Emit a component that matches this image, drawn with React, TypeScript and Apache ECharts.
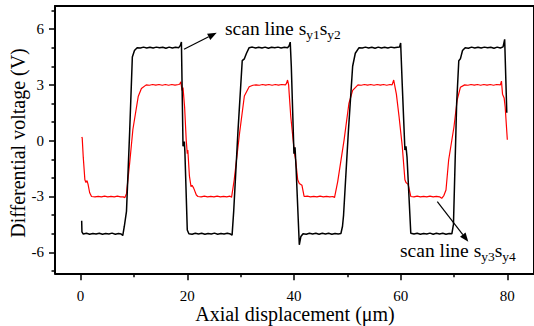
import React, { useEffect, useRef } from "react";
import * as echarts from "echarts";

const FONT = '"Liberation Serif", "Times New Roman", serif';

// x ticks / y ticks
const xMajor = [0, 20, 40, 60, 80];
const xMinor = [10, 30, 50, 70];
const yMajor = [-6, -3, 0, 3, 6];
const yMinor = [-7, -5, -4, -2, -1, 1, 2, 4, 5, 7];

// scan line sy1 sy2 (black)
const blackX = [
  0.2, 0.25, 0.5, 1.1, 1.7, 2.3, 2.9, 3.5, 4.1, 4.7, 5.3, 5.9, 6.5, 7.1, 7.6, 7.9, 8.2, 8.6, 9.2, 9.7,
  10.1, 10.6, 11.2, 11.8, 12.4, 13.0, 13.6, 14.2, 14.8, 15.4, 16.0, 16.6, 17.2, 17.8, 18.4, 18.7, 18.9,
  19.2, 19.45, 19.55, 20.0, 20.3, 20.9, 21.5, 22.1, 22.7, 23.3, 23.9, 24.5, 25.1, 25.7, 26.3, 26.9, 27.5,
  28.1, 28.4, 28.7, 29.5, 30.3, 30.7, 31.1, 31.6, 32.2, 32.8, 33.4, 34.0, 34.6, 35.2, 35.8, 36.4, 37.0,
  37.6, 38.2, 38.8, 39.1, 39.3, 39.5, 40.0, 40.2, 40.4, 41.0, 41.3, 41.7, 42.3, 42.9, 43.5, 44.1, 44.7,
  45.3, 45.9, 46.5, 47.1, 47.7, 48.3, 48.8, 49.1, 49.3, 50.2, 51.0, 51.5, 52.2, 52.8, 53.4, 54.0, 54.6,
  55.2, 55.8, 56.4, 57.0, 57.6, 58.2, 58.8, 59.4, 59.8, 60.0, 60.3, 60.8, 61.0, 61.2, 61.9, 62.5, 63.1,
  63.7, 64.3, 64.9, 65.5, 66.1, 66.7, 67.3, 67.9, 68.5, 69.1, 69.6, 69.9, 70.5, 70.9, 71.2, 71.6, 72.1,
  72.7, 73.3, 73.9, 74.5, 75.1, 75.7, 76.3, 76.9, 77.5, 78.1, 78.7, 79.2, 79.5, 79.9,
];
const blackY = [
  -4.3, -4.9, -5.02, -4.98, -5.03, -4.99, -5.02, -4.98, -5.03, -4.99, -5.02, -4.97, -5.03, -4.99, -5.02, -5.1, -4.6, -3.8, 0.5, 4.5,
  4.85, 5.0, 4.98, 5.03, 4.98, 5.02, 4.98, 5.03, 4.99, 5.02, 4.97, 5.03, 4.98, 5.02, 5.0, 5.12, 5.3,
  -0.3, -0.05, -0.6, -4.8, -5.0, -5.03, -4.98, -5.02, -4.98, -5.03, -4.99, -5.02, -4.97, -5.03, -4.99, -5.02, -4.98,
  -5.02, -5.08, -3.8, 0.5, 4.3, 4.4, 4.7, 5.0, 5.03, 4.98, 5.02, 4.98, 5.03, 4.97, 5.02, 4.99, 5.03,
  4.98, 5.02, 5.0, 5.1, 5.3, 4.0, -0.7, -0.35, -1.5, -5.6, -5.15, -5.0, -5.03, -4.98, -5.02, -4.98, -5.03,
  -4.98, -5.02, -4.98, -5.03, -4.99, -5.02, -4.99, -4.6, -4.0, 0.5, 4.0, 4.7, 5.0, 4.98, 5.03, 4.98, 5.02,
  4.97, 5.03, 4.98, 5.02, 4.98, 5.03, 4.99, 5.02, 5.04, 5.25, 3.0, -0.5, -0.3, -0.9, -4.98, -5.02, -4.98,
  -5.03, -4.99, -5.02, -4.97, -5.03, -4.98, -5.02, -4.98, -5.03, -4.99, -5.01, -4.5, 2.0, 4.3, 4.4, 4.85, 5.0,
  4.97, 5.03, 4.98, 5.02, 4.98, 5.03, 4.99, 5.02, 4.97, 5.03, 4.98, 5.04, 5.45, 1.5,
];

// scan line sy3 sy4 (red)
const redX = [
  0.2, 0.3, 0.5, 0.8, 1.0, 1.2, 1.4, 1.7, 2.05, 2.7, 3.3, 3.9, 4.5, 5.1, 5.7, 6.3, 6.9, 7.5, 8.0, 8.3,
  8.6, 9.2, 9.8, 10.8, 11.4, 12.3, 12.9, 13.5, 14.1, 14.7, 15.3, 15.9, 16.5, 17.1, 17.7, 18.4, 18.6, 18.8,
  19.0, 19.2, 19.5, 19.8, 20.0, 20.1, 20.4, 20.7, 20.9, 21.2, 21.7, 22.0, 22.6, 23.2, 23.8, 24.4, 25.0,
  25.6, 26.2, 26.8, 27.4, 28.0, 28.3, 28.8, 29.8, 30.7, 31.6, 32.3, 32.9, 33.5, 34.1, 34.7, 35.3, 35.9,
  36.5, 37.1, 37.7, 38.4, 38.6, 38.8, 39.0, 39.1, 39.4, 40.1, 40.3, 40.7, 41.0, 41.5, 41.9, 42.5, 43.1,
  43.7, 44.3, 44.9, 45.5, 46.1, 46.7, 47.3, 47.6, 48.2, 49.4, 50.3, 51.0, 52.0, 52.6, 53.2, 53.8, 54.4,
  55.0, 55.6, 56.2, 56.8, 57.4, 58.0, 58.4, 58.7, 59.0, 59.2, 59.7, 60.3, 60.8, 61.0, 61.4, 61.9, 62.5,
  63.1, 63.7, 64.3, 64.9, 65.5, 66.1, 66.7, 67.3, 67.7, 68.1, 68.5, 69.0, 70.0, 70.6, 71.2, 72.0, 72.6,
  73.2, 73.8, 74.4, 75.0, 75.6, 76.2, 76.8, 77.4, 78.0, 78.7, 78.9, 79.1, 79.4, 79.6, 80.0,
];
const redY = [
  0.2, 0.15, -0.9, -2.1, -2.25, -2.15, -2.35, -2.8, -3.0, -3.02, -2.99, -3.02, -2.98, -3.02, -2.99, -3.02, -2.98, -3.02, -3.02, -3.06,
  -2.85, -1.2, 0.6, 2.37, 2.8, 3.0, 2.98, 3.02, 2.99, 3.02, 2.98, 3.02, 2.98, 3.02, 2.99, 3.02, 3.05, 3.17,
  2.7, 2.85, 1.8, 0.04, -0.7, -0.5, -1.9, -2.47, -2.4, -2.55, -2.92, -3.0, -3.02, -2.98, -3.02, -2.99, -3.02,
  -2.98, -3.02, -2.99, -3.02, -2.98, -3.05, -2.1, 0.4, 2.4, 2.9, 2.98, 3.0, 2.98, 3.02, 2.99, 3.02, 2.98,
  3.02, 2.99, 3.02, 3.0, 3.08, 3.26, 3.0, 2.55, 1.3, -0.7, -1.0, -2.1, -2.3, -2.4, -3.0, -2.98, -3.02,
  -2.99, -3.02, -2.98, -3.02, -2.99, -3.02, -3.0, -3.06, -2.2, 0.04, 2.0, 2.7, 3.0, 2.98, 3.02, 2.99, 3.02,
  2.98, 3.02, 2.99, 3.02, 2.98, 3.02, 3.0, 3.26, 2.8, 2.5, 1.3, -0.3, -2.1, -2.25, -2.35, -3.0, -3.02,
  -2.98, -3.02, -2.99, -3.02, -2.98, -3.02, -2.99, -3.02, -3.1, -2.95, -2.65, -1.04, 0.75, 2.2, 2.87, 3.0, 2.98,
  3.02, 2.99, 3.02, 2.98, 3.02, 2.99, 3.02, 2.98, 3.02, 3.0, 3.2, 2.5, 2.3, 1.8, 0.05,
];

const X_MIN = -4.8;
const X_MAX = 85;
const Y_MIN = -7.13;
const Y_MAX = 7.24;

const GRID = { left: 55, top: 6, width: 480, height: 267.3 };

const pairs = (xs: number[], ys: number[]) => xs.map((x, i) => [x, ys[i]]);

const txt = (text: string, x: number, y: number, size: number, extra: any = {}) => ({
  type: "text",
  x,
  y,
  ...extra,
  style: {
    text,
    font: `${size}px ${FONT}`,
    fontSize: size,
    fontFamily: FONT,
    fill: "#000",
    textAlign: extra.align || "left",
    align: extra.align || "left",
    textVerticalAlign: "middle",
    verticalAlign: "middle",
  },
});

const arrow = (x1: number, y1: number, x2: number, y2: number) => {
  const dx = x2 - x1;
  const dy = y2 - y1;
  const len = Math.sqrt(dx * dx + dy * dy);
  const ux = dx / len;
  const uy = dy / len;
  const hl = 9;
  const hw = 3.5;
  const bx = x2 - hl * ux;
  const by = y2 - hl * uy;
  const nx = -uy;
  const ny = ux;
  return [
    {
      type: "line",
      shape: { x1, y1, x2: bx, y2: by },
      style: { stroke: "#000", lineWidth: 1.2 },
    },
    {
      type: "polygon",
      shape: {
        points: [
          [x2, y2],
          [bx + hw * nx, by + hw * ny],
          [bx - hw * nx, by - hw * ny],
        ],
      },
      style: { fill: "#000" },
    },
  ];
};

export default function App() {
  const ref = useRef<HTMLDivElement>(null);
  useEffect(() => {
    document.body.style.margin = "0";
    const chart = echarts.init(ref.current!, null, { renderer: "svg" });
    const axisLineStyle = { color: "#000", width: 2 };
    const tickStyle = { color: "#000", width: 1.5 };
    const baseX = { type: "value", min: X_MIN, max: X_MAX, splitLine: { show: false } };
    const baseY = { type: "value", min: Y_MIN, max: Y_MAX, splitLine: { show: false } };
    const option: any = {
      animation: false,
      backgroundColor: "#fff",
      grid: [
        { ...GRID, containLabel: false },
        { ...GRID, containLabel: false },
        { ...GRID, containLabel: false },
      ],
      xAxis: [
        {
          ...baseX,
          gridIndex: 0,
          position: "bottom",
          axisLine: { show: true, onZero: false, lineStyle: axisLineStyle },
          axisTick: { show: true, inside: false, length: 7, customValues: xMajor, lineStyle: tickStyle },
          axisLabel: { show: true, customValues: xMajor, margin: 15, color: "#000", fontSize: 15, fontFamily: FONT },
        },
        {
          ...baseX,
          gridIndex: 1,
          position: "bottom",
          axisLine: { show: false, onZero: false },
          axisTick: { show: true, inside: false, length: 4, customValues: xMinor, lineStyle: tickStyle },
          axisLabel: { show: false },
        },
        {
          ...baseX,
          gridIndex: 2,
          position: "top",
          axisLine: { show: true, onZero: false, lineStyle: axisLineStyle },
          axisTick: { show: false },
          axisLabel: { show: false },
        },
      ],
      yAxis: [
        {
          ...baseY,
          gridIndex: 0,
          position: "left",
          axisLine: { show: true, onZero: false, lineStyle: axisLineStyle },
          axisTick: { show: true, inside: false, length: 6, customValues: yMajor, lineStyle: tickStyle },
          axisLabel: { show: true, customValues: yMajor, margin: 11, color: "#000", fontSize: 15, fontFamily: FONT },
        },
        {
          ...baseY,
          gridIndex: 1,
          position: "left",
          axisLine: { show: false, onZero: false },
          axisTick: { show: true, inside: false, length: 3.5, customValues: yMinor, lineStyle: tickStyle },
          axisLabel: { show: false },
        },
        {
          ...baseY,
          gridIndex: 2,
          position: "right",
          axisLine: { show: true, onZero: false, lineStyle: axisLineStyle },
          axisTick: { show: false },
          axisLabel: { show: false },
        },
      ],
      series: [
        {
          name: "scan line sy3sy4",
          type: "line",
          xAxisIndex: 0,
          yAxisIndex: 0,
          data: pairs(redX, redY),
          showSymbol: false,
          symbol: "none",
          lineStyle: { color: "#ff0000", width: 1.2 },
          z: 3,
        },
        {
          name: "scan line sy1sy2",
          type: "line",
          xAxisIndex: 0,
          yAxisIndex: 0,
          data: pairs(blackX, blackY),
          showSymbol: false,
          symbol: "none",
          lineStyle: { color: "#000", width: 1.5 },
          z: 4,
        },
      ],
      graphic: [
        txt("Differential voltage (V)", 18, 143, 20, { align: "center", rotation: Math.PI / 2 }),
        txt("Axial displacement (\u03bcm)", 295, 314, 20, { align: "center" }),
        // annotation 1
        txt("scan line s", 225, 28.4, 19.5),
        txt("y1", 306.2, 34.4, 13.5),
        txt("s", 319.7, 28.4, 19.5),
        txt("y2", 327.3, 34.4, 13.5),
        ...arrow(184, 49.3, 216.7, 32.7),
        // annotation 2
        txt("scan line s", 400, 250.1, 19.5),
        txt("y3", 481.2, 256.1, 13.5),
        txt("s", 494.7, 250.1, 19.5),
        txt("y4", 502.3, 256.1, 13.5),
        ...arrow(437.3, 201.7, 468.3, 241.7),
      ],
    };
    chart.setOption(option);
    return () => chart.dispose();
  }, []);
  return <div ref={ref} style={{ width: 534, height: 326 }} />;
}
